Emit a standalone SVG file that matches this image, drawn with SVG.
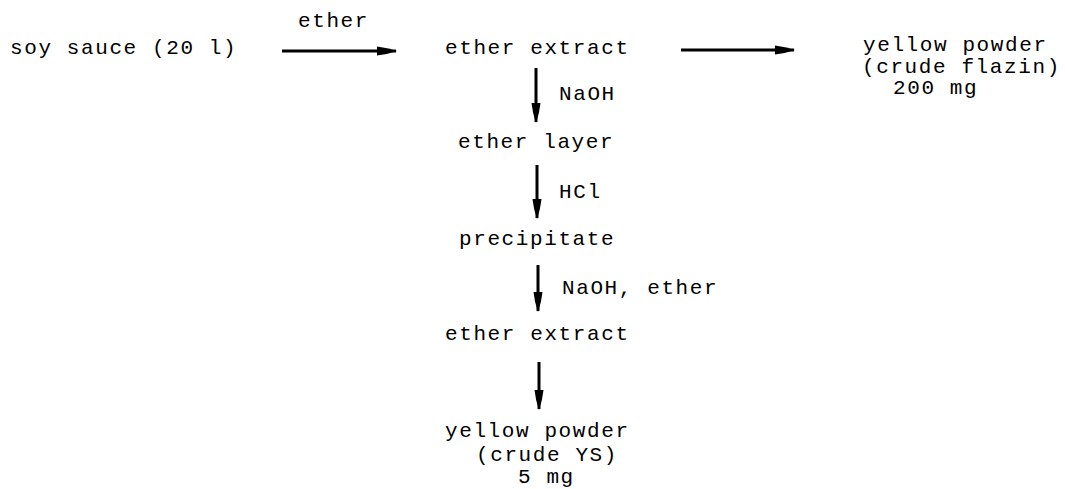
<svg xmlns="http://www.w3.org/2000/svg" width="1065" height="489" viewBox="0 0 1065 489">
<style>
text{font-family:"Liberation Mono","DejaVu Sans Mono",monospace;font-size:21px;letter-spacing:1.6px;fill:#000}
.c line{stroke:#000;stroke-width:3}
</style>
<defs>
<marker id="ah" viewBox="0 0 20 10" refX="19" refY="5" markerWidth="20" markerHeight="10" markerUnits="userSpaceOnUse" orient="auto">
<path d="M0,0.5 Q10,1.5 20,5 Q10,8.5 0,9.5 Z" fill="#000"/>
</marker>
</defs>
<rect width="1065" height="489" fill="#fff"/>
<g id="soy"><text x="10" y="54">soy sauce (20 l)</text></g>
<g id="extract1"><text x="445" y="54">ether extract</text></g>
<g id="flazin"><text x="863" y="51">yellow powder</text><text x="862" y="73">(crude flazin)</text><text x="893" y="94">200 mg</text></g>
<g id="layer"><text x="458" y="148">ether layer</text></g>
<g id="precip"><text x="459" y="245">precipitate</text></g>
<g id="extract2"><text x="445" y="340">ether extract</text></g>
<g id="ys"><text x="445" y="437">yellow powder</text><text x="476" y="461">(crude YS)</text><text x="518" y="483">5 mg</text></g>
<g class="c" id="connectors">
<line x1="282" y1="51" x2="396" y2="51" marker-end="url(#ah)"/>
<text x="298" y="27">ether</text>
<line x1="681" y1="50" x2="794" y2="50" marker-end="url(#ah)"/>
<line x1="536" y1="68" x2="536" y2="122" marker-end="url(#ah)"/>
<text x="559" y="100">NaOH</text>
<line x1="537" y1="165" x2="537" y2="218" marker-end="url(#ah)"/>
<text x="559" y="198">HCl</text>
<line x1="538" y1="265" x2="538" y2="311" marker-end="url(#ah)"/>
<text x="562" y="294">NaOH, ether</text>
<line x1="539" y1="362" x2="539" y2="409" marker-end="url(#ah)"/>
</g>
</svg>
